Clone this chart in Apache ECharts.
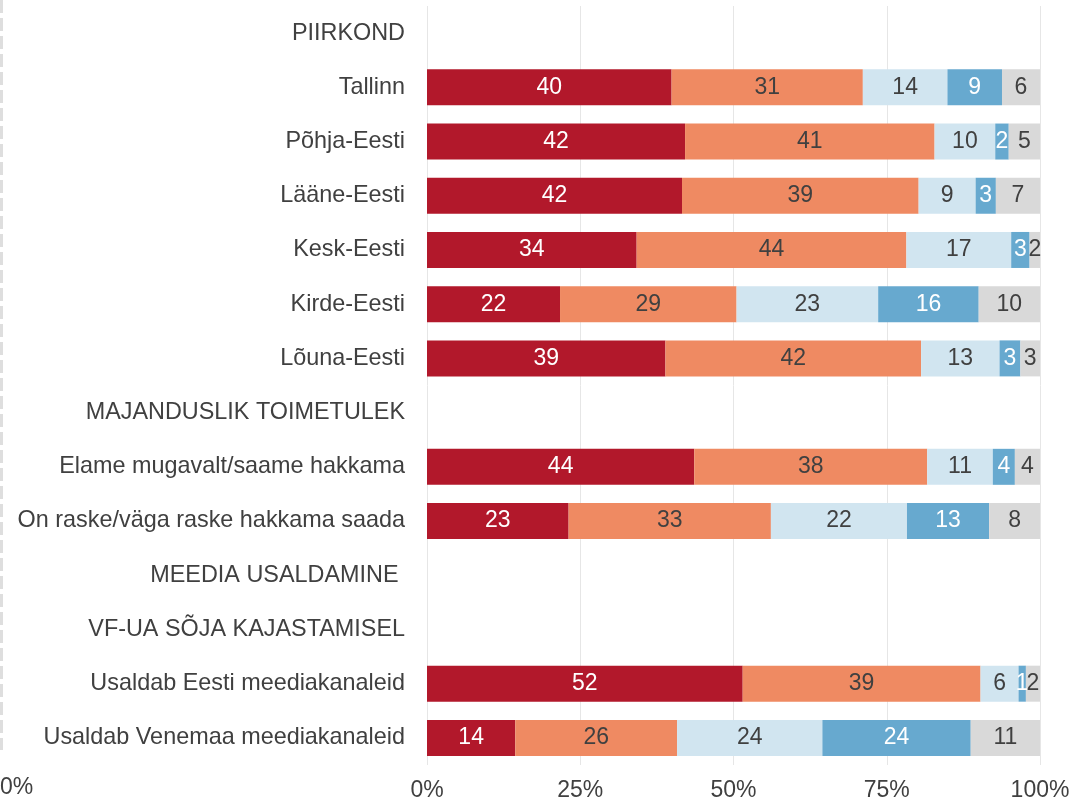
<!DOCTYPE html>
<html>
<head>
<meta charset="utf-8">
<script src="https://cdn.jsdelivr.net/npm/echarts@6/dist/echarts.min.js"></script>
<style>
  html, body { margin: 0; padding: 0; background: #fff; }
  #chart { width: 1085px; height: 805px; }
</style>
</head>
<body>
<div id="chart"></div>
<script>
// kategooriad (pealkirjaread ilma andmeteta)
var categories = [
  'PIIRKOND',
  'Tallinn',
  'Põhja-Eesti',
  'Lääne-Eesti',
  'Kesk-Eesti',
  'Kirde-Eesti',
  'Lõuna-Eesti',
  'MAJANDUSLIK TOIMETULEK',
  'Elame mugavalt/saame hakkama',
  'On raske/väga raske hakkama saada',
  'MEEDIA USALDAMINE ',
  'VF-UA SÕJA KAJASTAMISEL',
  'Usaldab Eesti meediakanaleid',
  'Usaldab Venemaa meediakanaleid'
];

// protsendid, loetud pildilt
var s1 = ['-', 39.9, 42.1, 41.6, 34.2, 21.7, 38.9, '-', 43.6, 23.1, '-', '-', 51.5, 14.4];
var s2 = ['-', 31.2, 40.7, 38.6, 44.0, 28.8, 41.7, '-', 38.0, 33.0, '-', '-', 38.8, 26.4];
var s3 = ['-', 13.8, 9.9, 9.3, 17.1, 23.1, 12.8, '-', 10.7, 22.2, '-', '-', 6.2, 23.7];
var s4 = ['-', 8.9, 2.2, 3.3, 3.0, 16.4, 3.4, '-', 3.6, 13.4, '-', '-', 1.2, 24.2];
var s5 = ['-', 6.2, 5.1, 7.2, 1.7, 10.0, 3.2, '-', 4.1, 8.3, '-', '-', 2.3, 11.3];

var xTicks = [0, 25, 50, 75, 100];

var colors = ['#b2182b', '#ef8a62', '#d1e5f0', '#67a9cf', '#d9d9d9'];
var labelColors = ['#ffffff', '#404040', '#404040', '#ffffff', '#404040'];
var font = "'Liberation Sans', Arial, sans-serif";

var chartDom = document.getElementById('chart');
var myChart = echarts.init(chartDom);

var makeSeries = function (name, data, i) {
  return {
    name: name,
    type: 'bar',
    stack: 'total',
    data: data,
    barWidth: 36,
    itemStyle: { color: colors[i] },
    label: {
      show: true,
      position: 'inside',
      color: labelColors[i],
      fontSize: 23,
      fontFamily: font,
      formatter: function (p) {
        return Math.round(p.value);
      }
    }
  };
};

var option = {
  animation: false,
  backgroundColor: '#ffffff',
  grid: { left: 427, right: 45, top: 6, bottom: 40 },
  xAxis: {
    type: 'value',
    min: xTicks[0],
    max: xTicks[xTicks.length - 1],
    interval: 25,
    axisLine: { show: false },
    axisTick: { show: false },
    splitLine: { lineStyle: { color: '#e6e6e6', width: 1 } },
    axisLabel: {
      formatter: '{value}%',
      color: '#404040',
      fontSize: 23,
      fontFamily: font,
      margin: 14
    }
  },
  yAxis: {
    type: 'category',
    data: categories,
    inverse: true,
    axisLine: { show: false },
    axisTick: { show: false },
    axisLabel: {
      color: '#404040',
      fontSize: 23.4,
      fontFamily: font,
      margin: 22
    }
  },
  series: [
    makeSeries('1', s1, 0),
    makeSeries('2', s2, 1),
    makeSeries('3', s3, 2),
    makeSeries('4', s4, 3),
    makeSeries('5', s5, 4)
  ],
  graphic: [
    {
      type: 'line',
      shape: { x1: 1.5, y1: 0, x2: 1.5, y2: 750 },
      style: { stroke: '#dedede', lineWidth: 3, lineDash: [13, 5] }
    },
    {
      type: 'text',
      left: 0,
      top: 776,
      style: { text: '0%', fill: '#404040', fontSize: 23, fontFamily: font }
    }
  ]
};

myChart.setOption(option);
</script>
</body>
</html>
